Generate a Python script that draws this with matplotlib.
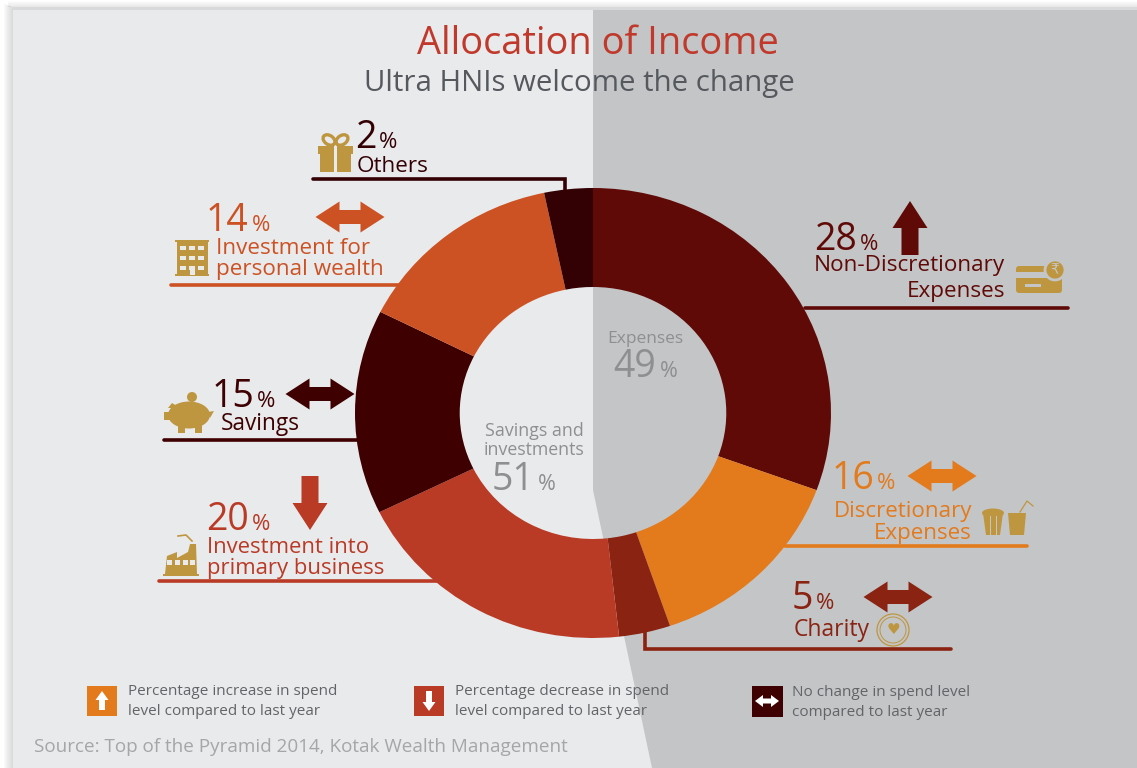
import matplotlib
matplotlib.use('Agg')
import matplotlib.pyplot as plt
from matplotlib.patches import Polygon, Rectangle, Circle, Ellipse, FancyBboxPatch

plt.rcParams['font.family'] = ['Open Sans', 'DejaVu Sans']

# wedges clockwise from 12 o'clock
labels = ['Non-Discretionary\nExpenses', 'Discretionary\nExpenses', 'Charity',
          'Investment into\nprimary business', 'Savings', 'Investment for\npersonal wealth', 'Others']
percents = [28, 16, 5, 20, 15, 14, 2]
# share of the ring each wedge takes as drawn (not the same as the printed percent)
drawn_shares = [30.6, 14.2, 3.5, 19.5, 14.7, 14.3, 3.3]
colors = ['#5f0a07', '#e37a1c', '#8a2312', '#b93a25', '#3e0000', '#cc5224', '#330003']

legend_texts = ['Percentage increase in spend\nlevel compared to last year',
                'Percentage decrease in spend\nlevel compared to last year',
                'No change in spend level\ncompared to last year']
group_names = ['Expenses', 'Savings and\ninvestments']
group_values = [49, 51]

LIGHT = '#e9eaec'
DARK = '#c4c5c7'
GOLD = '#bf9640'
CENTRE = '#8e8f91'
LEG = '#626467'

fig = plt.figure(figsize=(11.37, 7.68), dpi=100, facecolor='white')
ax = fig.add_axes([0, 0, 1, 1])
ax.set_xlim(0, 1137)
ax.set_ylim(768, 0)
ax.axis('off')

# page shadow + background panels
for i in range(10):
    a = 0.05 + 0.035 * i
    ax.add_patch(Rectangle((4 + i, 4 + i * 0.4), 1, 764, fc='#8f8f8f', ec='none', alpha=a, zorder=1))
    ax.add_patch(Rectangle((8, 1 + i * 0.6), 1129, 0.6, fc='#b5b5b5', ec='none', alpha=0.03 + 0.03 * i, zorder=1))
ax.add_patch(Rectangle((13, 7), 1124, 3, fc='#d8d9db', ec='none', zorder=2))
ax.add_patch(Rectangle((13, 10), 1124, 758, fc=LIGHT, ec='none', zorder=2))
ax.add_patch(Polygon([(593, 10), (1137, 10), (1137, 768), (652, 768), (593, 490)], fc=DARK, ec='none', zorder=3))


def txt(x, y, s, size, color, ha='left', **kw):
    ax.text(x, y, s, fontsize=size, color=color, ha=ha, va='baseline', zorder=8, **kw)


def big_pct(x, y, val, color, pct_x):
    txt(x, y, str(val), 27, color)
    txt(pct_x, y, '%', 16, color)


def two_way(cx, cy, color, w=69, h=31, shaft=14, head=24):
    x0, x1 = cx - w / 2, cx + w / 2
    pts = [(x0, cy), (x0 + head, cy - h / 2), (x0 + head, cy - shaft / 2), (x1 - head, cy - shaft / 2),
           (x1 - head, cy - h / 2), (x1, cy), (x1 - head, cy + h / 2), (x1 - head, cy + shaft / 2),
           (x0 + head, cy + shaft / 2), (x0 + head, cy + h / 2)]
    ax.add_patch(Polygon(pts, fc=color, ec='none', zorder=6))


def one_way(cx, tail, tip, color, w=35, shaft=17, head=27):
    s = 1 if tip > tail else -1
    neck = tip - s * head
    pts = [(cx - shaft / 2, tail), (cx + shaft / 2, tail), (cx + shaft / 2, neck), (cx + w / 2, neck),
           (cx, tip), (cx - w / 2, neck), (cx - shaft / 2, neck)]
    ax.add_patch(Polygon(pts, fc=color, ec='none', zorder=6))


def leader(pts, color):
    ax.plot([p[0] for p in pts], [p[1] for p in pts], color=color, lw=2.6,
            solid_capstyle='round', solid_joinstyle='miter', zorder=4)


def rect(x, y, w, h, c=GOLD, z=6):
    ax.add_patch(Rectangle((x, y), w, h, fc=c, ec='none', zorder=z))


# leader lines go under the ring
leader([(805, 308), (1068, 308)], colors[0])
leader([(785, 546), (1027, 546)], colors[1])
leader([(645, 630), (645, 649), (951, 649)], colors[2])
leader([(159, 581), (440, 581)], colors[3])
leader([(164, 440), (360, 440)], colors[4])
leader([(171, 285), (400, 285)], colors[5])
leader([(313, 179), (565, 179), (565, 195)], colors[6])

# ring, stretched a little wider than tall like the original
ring = fig.add_axes([355 / 1137, 1 - 638 / 768, 476 / 1137, 450 / 768])
ring.patch.set_alpha(0)
ring.pie(drawn_shares, colors=colors, startangle=90, counterclock=False, radius=1,
         wedgeprops=dict(width=0.44, linewidth=0))
ring.set_aspect('auto')
ring.set_xlim(-1, 1)
ring.set_ylim(-1, 1)
ring.axis('off')
ring.set_zorder(3)

# text and icons sit in a transparent top layer
top = fig.add_axes([0, 0, 1, 1])
top.set_xlim(0, 1137)
top.set_ylim(768, 0)
top.axis('off')
top.patch.set_alpha(0)
top.set_zorder(5)
ax = top

txt(598, 54, 'Allocation of Income', 27.4, '#c0392b', ha='center')
txt(579, 91, 'Ultra HNIs welcome the change', 21.2, '#55595e', ha='center')

# Others
big_pct(355, 148, percents[6], colors[6], 379)
txt(357, 172, labels[6], 16.2, colors[6])
# gift
rect(318, 146, 35, 8)
rect(320, 154, 31, 18)
rect(334, 146, 3, 26, LIGHT, 7)
ax.add_patch(Ellipse((329, 140), 13, 9, angle=35, fc='none', ec=GOLD, lw=2.4, zorder=6))
ax.add_patch(Ellipse((342, 140), 13, 9, angle=-35, fc='none', ec=GOLD, lw=2.4, zorder=6))

# Investment for personal wealth
big_pct(206, 231, percents[5], colors[5], 252)
txt(216, 254, 'Investment for', 16.2, colors[5])
txt(216, 275, 'personal wealth', 16.2, colors[5])
two_way(350, 217, colors[5])
# building
rect(177, 241, 31, 34)
rect(175, 240, 34, 2)
rect(175, 274, 34, 2)
for row in (246, 256, 266):
    for col in (180, 189, 198):
        rect(col, row, 6, 4, LIGHT, 7)
rect(190, 268, 5, 7, LIGHT, 7)

# Savings
big_pct(212, 407, percents[4], colors[4], 257)
txt(221, 430, labels[4], 16.3, colors[4])
two_way(320, 394, colors[4])
# piggy bank
ax.add_patch(Ellipse((189, 415), 42, 27, fc=GOLD, ec='none', zorder=6))
ax.add_patch(Circle((192, 397), 5, fc=GOLD, ec='none', zorder=6))
rect(178, 424, 7, 9)
rect(195, 424, 7, 9)
rect(164, 412, 8, 8)
ax.add_patch(Polygon([(168, 408), (172, 403), (180, 408)], fc=GOLD, ec='none', zorder=6))
ax.add_patch(Polygon([(208, 412), (214, 411), (210, 418)], fc=GOLD, ec='none', zorder=6))

# Investment into primary business
big_pct(206, 530, percents[3], colors[3], 252)
txt(207, 553, 'Investment into', 15.9, colors[3])
txt(207, 574, 'primary business', 15.9, colors[3])
one_way(310, 476, 530, colors[3])
# factory
ax.add_patch(Polygon([(165, 574), (167, 556), (177, 552), (177, 558), (188, 552), (190, 544),
                      (196, 544), (197, 574)], fc=GOLD, ec='none', zorder=6))
rect(163, 574, 36, 2)
for col in (168, 176, 184, 191):
    rect(col - 1, 560, 5, 5, LIGHT, 7)
ax.plot([178, 186, 192], [536, 535, 541], color=GOLD, lw=1.2, zorder=6)

# Non-discretionary
big_pct(814, 250, percents[0], colors[0], 860)
txt(1005, 271, 'Non-Discretionary', 16.2, colors[0], ha='right')
txt(1005, 297, 'Expenses', 16.2, colors[0], ha='right')
one_way(910, 255, 201, colors[0])
# card with rupee coin
ax.add_patch(FancyBboxPatch((1018, 268), 42, 23, boxstyle='round,pad=2,rounding_size=3',
                            fc=GOLD, ec='none', zorder=6))
rect(1016, 272, 36, 6, DARK, 7)
rect(1025, 284, 16, 3, DARK, 7)
ax.add_patch(Circle((1055, 270), 10, fc=GOLD, ec=DARK, lw=2, zorder=7))
ax.text(1055, 270, '\u20b9', fontsize=10, color=DARK, ha='center', va='center', zorder=8)

# Discretionary
big_pct(832, 489, percents[1], colors[1], 877)
txt(972, 517, 'Discretionary', 16.1, colors[1], ha='right')
txt(972, 539, 'Expenses', 16.1, colors[1], ha='right')
two_way(942, 476, colors[1])
# popcorn + drink
ax.add_patch(Polygon([(983, 513), (1003, 513), (1000, 535), (986, 535)], fc=GOLD, ec='none', zorder=6))
ax.add_patch(Ellipse((993, 513), 22, 9, fc=GOLD, ec='none', zorder=6))
for col in (989.5, 996):
    rect(col, 516, 1.2, 19, DARK, 7)
ax.add_patch(Polygon([(1008, 513), (1026, 513), (1024, 535), (1010, 535)], fc=GOLD, ec='none', zorder=6))
ax.plot([1020, 1027, 1033], [512, 501, 506], color=GOLD, lw=0.9, zorder=6)

# Charity
big_pct(792, 609, percents[2], colors[2], 816)
txt(794, 636, labels[2], 16.5, colors[2])
two_way(898, 597, colors[2])
ax.add_patch(Circle((893, 630), 16, fc='none', ec=GOLD, lw=0.9, zorder=6))
ax.add_patch(Circle((893, 630), 13, fc='none', ec=GOLD, lw=0.7, zorder=6))
ax.text(893, 630, '\u2665', fontsize=11, color=GOLD, ha='center', va='center', zorder=7,
        family='DejaVu Sans')

# ring centre
txt(645, 343, group_names[0], 12.5, CENTRE, ha='center')
txt(613, 377, str(group_values[0]), 27, CENTRE)
txt(660, 377, '%', 15.5, CENTRE)
txt(534, 436, group_names[1].split('\n')[0], 12.8, CENTRE, ha='center')
txt(534, 455, group_names[1].split('\n')[1], 12.8, CENTRE, ha='center')
txt(492, 490, str(group_values[1]), 27, CENTRE)
txt(538, 490, '%', 15.5, CENTRE)

# legend
rect(87, 686, 30, 30, colors[1])
one_way(102, 710, 691, 'white', w=13, shaft=6, head=9)
txt(128, 695, legend_texts[0].split('\n')[0], 11, LEG)
txt(128, 715, legend_texts[0].split('\n')[1], 11, LEG)

rect(414, 686, 30, 30, colors[3])
one_way(429, 691, 711, 'white', w=13, shaft=6, head=9)
txt(455, 695, legend_texts[1].split('\n')[0], 11, LEG)
txt(455, 715, legend_texts[1].split('\n')[1], 11, LEG)

rect(752, 686, 31, 31, colors[4])
two_way(767, 701, 'white', w=24, h=12, shaft=5, head=8)
txt(792, 696, legend_texts[2].split('\n')[0], 11, LEG)
txt(792, 716, legend_texts[2].split('\n')[1], 11, LEG)

txt(34, 752, 'Source: Top of the Pyramid 2014, Kotak Wealth Management', 13.6, '#a5a6a8')

fig.savefig('out.png', dpi=100)
